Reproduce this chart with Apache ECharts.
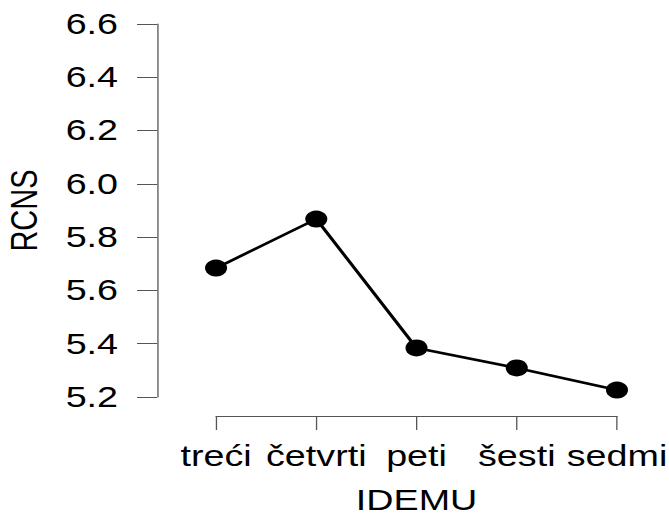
<!DOCTYPE html>
<html>
<head>
<meta charset="utf-8">
<script src="https://cdn.jsdelivr.net/npm/echarts@6/dist/echarts.min.js"></script>
<style>
	html, body {
		margin: 0;
		padding: 0;
		background: #fff;
		overflow: hidden;
	}
	/* the reference picture is stretched sideways, so is the chart */
	#chart {
		width: 515px;
		height: 517px;
		transform: scaleX(1.3);
		transform-origin: 0 0;
	}
</style>
</head>
<body>
<div id="chart"></div>
<script>
	var categories = ['treći', 'četvrti', 'peti', 'šesti', 'sedmi'];
	var rcns = [5.684, 5.868, 5.384, 5.309, 5.226];
	var yMin = 5.2;
	var yMax = 6.6;
	var yStep = 0.2;

	var font = 'Liberation Sans, Arial, Helvetica, sans-serif';
	var fontSize = 29;
	var axisColor = '#555';

	var chart = echarts.init(document.getElementById('chart'), null, { renderer: 'svg' });
	chart.setOption({
		animation: false,
		grid: {
			left: 166.2,
			right: 40.4,
			top: 24,
			bottom: 120,
			outerBoundsMode: 'none'
		},
		xAxis: {
			type: 'category',
			data: categories,
			boundaryGap: false,
			offset: 19,
			name: 'IDEMU',
			nameLocation: 'middle',
			nameGap: 70,
			nameTextStyle: { fontSize: fontSize, color: '#000', fontFamily: font },
			axisLine: { lineStyle: { color: axisColor, width: 1 } },
			axisTick: { length: 14, lineStyle: { color: axisColor, width: 1 } },
			axisLabel: { interval: 0, margin: 26, fontSize: fontSize, color: '#000', fontFamily: font },
			splitLine: { show: false }
		},
		yAxis: {
			type: 'value',
			min: yMin,
			max: yMax,
			interval: yStep,
			offset: 45.4,
			name: 'RCNS',
			nameLocation: 'middle',
			nameRotate: 90,
			nameGap: 88,
			nameTextStyle: { fontSize: fontSize, color: '#000', fontFamily: font },
			axisLine: { show: true, lineStyle: { color: axisColor, width: 1 } },
			axisTick: { show: true, length: 15.4, lineStyle: { color: axisColor, width: 1 } },
			axisLabel: {
				margin: 30,
				fontSize: fontSize,
				color: '#000',
				fontFamily: font,
				formatter: function (v) { return v.toFixed(1); }
			},
			splitLine: { show: false }
		},
		series: [{
			type: 'line',
			data: rcns,
			clip: false,
			symbol: 'circle',
			symbolSize: 17,
			itemStyle: { color: '#000' },
			lineStyle: { color: '#000', width: 2.6 }
		}]
	});
</script>
</body>
</html>
